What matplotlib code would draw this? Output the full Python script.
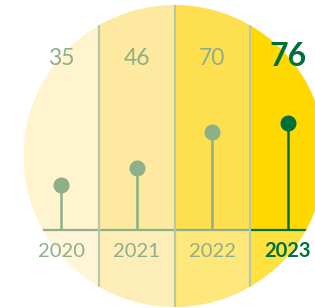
import matplotlib
matplotlib.use("Agg")
import matplotlib.pyplot as plt
from matplotlib.patches import Ellipse

# ---- data ----
years = ["2020", "2021", "2022", "2023"]
values = [35, 46, 70, 76]
band_colors = ["#FFF4CE", "#FDE99F", "#FEDF50", "#FFD900"]
highlight = [False, False, False, True]

MUTED = "#8DAF89"
DARK = "#00703A"
DIVIDER = "#B7C8A8"

plt.rcParams['font.family'] = ['Lato', 'DejaVu Sans']

fig = plt.figure(figsize=(3.15, 3.08), dpi=100)
fig.patch.set_facecolor("white")
ax = fig.add_axes([23.5 / 315, 0, 302 / 315, 1])
ax.set_xlim(-0.5, 3.5)
base = 5
ax.set_ylim(-46, 156.6)
ax.axis("off")

clip = Ellipse((1.5, 54.0), 4.0, 198.7, transform=ax.transData,
               facecolor="none", edgecolor="none")
ax.add_patch(clip)

xs = list(range(len(years)))
top, bottom = 160, -50
arts = []
arts += list(ax.bar(xs, top - base, bottom=base, width=1.0, color=band_colors, zorder=1))
arts += list(ax.bar(xs, base - bottom, bottom=bottom, width=1.0, color=band_colors, zorder=1))
arts += list(ax.bar(xs, base - bottom, bottom=bottom, width=1.0, color="white", alpha=0.25, zorder=1.5))

# baseline
for x, hl in zip(xs, highlight):
    arts += ax.plot([x - 0.5, x + 0.5], [base, base], color=DARK if hl else MUTED,
                    lw=1.6, zorder=2, solid_capstyle="butt")

# dividers
for x in xs[:-1]:
    arts += ax.plot([x + 0.5, x + 0.5], [bottom, top], color=DIVIDER, lw=1.6, zorder=3)

for a in arts:
    a.set_clip_path(clip)

# lollipops
for x, v, hl in zip(xs, values, highlight):
    c = DARK if hl else MUTED
    ax.plot([x, x], [base, v], color=c, lw=1.8, zorder=4, solid_capstyle="butt")
    ax.plot([x], [v], "o", color=c, markersize=10.5, zorder=5)

# value labels
for x, v, hl in zip(xs, values, highlight):
    if hl:
        ax.text(x, 119.5, str(v), ha="center", va="center", fontsize=23,
                fontweight="bold", color=DARK, zorder=6)
    else:
        ax.text(x, 117.8, str(v), ha="center", va="center", fontsize=16.5,
                color=MUTED, zorder=6)

# year labels
for x, y, hl in zip(xs, years, highlight):
    ax.text(x, -8.8, y, ha="center", va="center", fontsize=14.5,
            fontweight="bold" if hl else "normal", color=DARK if hl else MUTED, zorder=6)

fig.savefig("out.png", dpi=100, facecolor="white")
